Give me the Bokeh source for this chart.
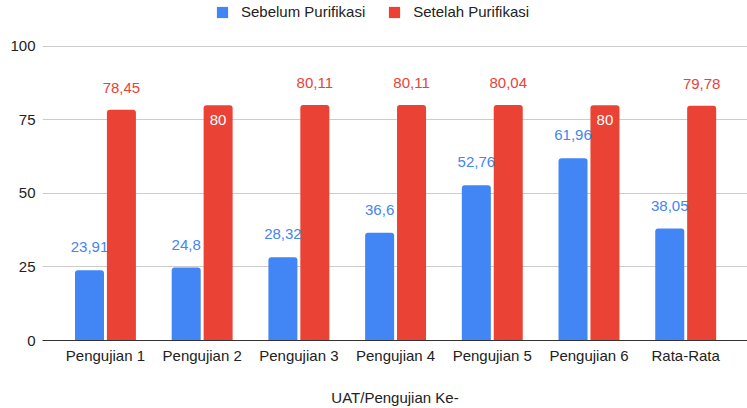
from bokeh.plotting import figure
from bokeh.models import ColumnDataSource, FixedTicker, Range1d, Legend, LegendItem
from bokeh.core.properties import value
from bokeh.embed import file_html
from bokeh.resources import INLINE

categories = ["Pengujian 1", "Pengujian 2", "Pengujian 3", "Pengujian 4",
              "Pengujian 5", "Pengujian 6", "Rata-Rata"]
sebelum = [23.91, 24.8, 28.32, 36.6, 52.76, 61.96, 38.05]
setelah = [78.45, 80, 80.11, 80.11, 80.04, 80, 79.78]
setelah_label_inside = [False, True, False, False, False, True, False]
y_ticks = [0, 25, 50, 75, 100]

BLUE = "#4285F4"
RED = "#EA4335"
FONT = "Liberation Sans"
FS = "15px"
TXT = "#222222"

def fmt(v):
    s = ("%.2f" % v).rstrip("0").rstrip(".")
    return s.replace(".", ",")

xs = list(range(len(categories)))
off = 0.165
src_b = ColumnDataSource(dict(x=[i - off for i in xs], top=sebelum,
                              lab=[fmt(v) for v in sebelum]))
src_r = ColumnDataSource(dict(x=[i + off for i in xs], top=setelah,
                              lab=[fmt(v) for v in setelah]))
src_r_out = ColumnDataSource(dict(
    x=[i + off for i, ins in zip(xs, setelah_label_inside) if not ins],
    y=[v for v, ins in zip(setelah, setelah_label_inside) if not ins],
    lab=[fmt(v) for v, ins in zip(setelah, setelah_label_inside) if not ins]))
src_r_in = ColumnDataSource(dict(
    x=[i + off for i, ins in zip(xs, setelah_label_inside) if ins],
    y=[v for v, ins in zip(setelah, setelah_label_inside) if ins],
    lab=[fmt(v) for v, ins in zip(setelah, setelah_label_inside) if ins]))

# y range extends above 100 to leave room for the legend inside the frame
p = figure(width=747, height=408, output_backend="svg", toolbar_location=None,
           x_range=Range1d(-0.651, 6.639), y_range=Range1d(0, 115.6),
           min_border_left=42, min_border_right=0, min_border_top=0,
           min_border_bottom=10)
p.outline_line_color = None
p.background_fill_color = "white"

rb = p.vbar(x="x", top="top", bottom=0, width=0.30, source=src_b,
            fill_color=BLUE, line_color=None, border_radius=(3, 3, 0, 0))
rr = p.vbar(x="x", top="top", bottom=0, width=0.30, source=src_r,
            fill_color=RED, line_color=None, border_radius=(3, 3, 0, 0))

p.text(x="x", y="top", text="lab", source=src_b, text_align="center",
       text_baseline="middle", y_offset=-23, text_color=BLUE,
       text_font=value(FONT), text_font_size=FS)
p.text(x="x", y="y", text="lab", source=src_r_out, text_align="center",
       text_baseline="middle", y_offset=-22, text_color=RED,
       text_font=value(FONT), text_font_size=FS)
p.text(x="x", y="y", text="lab", source=src_r_in, text_align="center",
       text_baseline="middle", y_offset=15, text_color="white",
       text_font=value(FONT), text_font_size=FS)

# axes
p.xaxis.ticker = FixedTicker(ticks=xs)
p.xaxis.major_label_overrides = {i: c for i, c in zip(xs, categories)}
p.xaxis.axis_line_color = "#333333"
p.xaxis.axis_line_width = 1
p.xaxis.major_tick_line_color = None
p.xaxis.major_tick_out = 0
p.xaxis.major_tick_in = 0
p.xaxis.minor_tick_line_color = None
p.xaxis.major_label_text_font = FONT
p.xaxis.major_label_text_font_size = FS
p.xaxis.major_label_text_color = TXT
p.xaxis.major_label_standoff = 6
p.xaxis.axis_label = "UAT/Pengujian Ke-"
p.xaxis.axis_label_text_font = FONT
p.xaxis.axis_label_text_font_size = FS
p.xaxis.axis_label_text_font_style = "normal"
p.xaxis.axis_label_text_color = TXT
p.xaxis.axis_label_standoff = 22

p.yaxis.ticker = FixedTicker(ticks=y_ticks)
p.yaxis.axis_line_color = None
p.yaxis.major_tick_line_color = None
p.yaxis.major_tick_out = 0
p.yaxis.major_tick_in = 0
p.yaxis.minor_tick_line_color = None
p.yaxis.major_label_text_font = FONT
p.yaxis.major_label_text_font_size = FS
p.yaxis.major_label_text_color = TXT
p.yaxis.major_label_standoff = 7

p.xgrid.grid_line_color = None
p.ygrid.ticker = FixedTicker(ticks=y_ticks)
p.ygrid.grid_line_color = "#cccccc"

legend = Legend(items=[LegendItem(label="Sebelum Purifikasi", renderers=[rb]),
                       LegendItem(label="Setelah Purifikasi", renderers=[rr])],
                orientation="horizontal", location=(173, 320),
                glyph_width=14, glyph_height=14, label_height=14,
                label_standoff=12, spacing=22, padding=0, margin=0,
                label_text_font=FONT, label_text_font_size=FS,
                label_text_color=TXT, border_line_color=None,
                background_fill_alpha=0)
p.add_layout(legend, "center")

open("out.html", "w").write(file_html(p, INLINE))
